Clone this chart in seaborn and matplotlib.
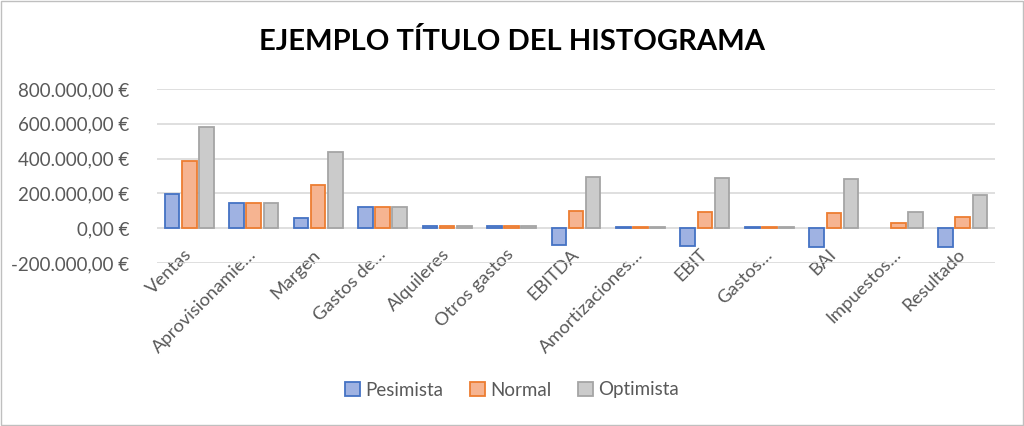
import matplotlib
matplotlib.use("Agg")
import matplotlib.pyplot as plt
import seaborn as sns
import pandas as pd
from matplotlib.patches import Patch, Rectangle
from matplotlib.ticker import FuncFormatter

categories = ["Ventas", "Aprovisionamie…", "Margen", "Gastos de…", "Alquileres",
              "Otros gastos", "EBITDA", "Amortizaciones…", "EBIT", "Gastos…",
              "BAI", "Impuestos…", "Resultado"]
pesimista = [194000, 143000, 57000, 122000, 15000, 15000, -95000, 8000, -101000, 5000, -107000, 0, -107000]
normal = [389000, 143000, 247000, 122000, 15000, 15000, 101000, 8000, 95000, 5000, 90000, 32000, 65000]
optimista = [579000, 143000, 440000, 122000, 15000, 15000, 293000, 8000, 287000, 5000, 282000, 95000, 192000]
series = ["Pesimista", "Normal", "Optimista"]
yticks = [-200000, 0, 200000, 400000, 600000, 800000]

rows = []
for name, vals in zip(series, [pesimista, normal, optimista]):
    for c, v in zip(categories, vals):
        rows.append({"cat": c, "serie": name, "valor": v})
df = pd.DataFrame(rows)

sns.set_theme(style="white")
plt.rcParams['font.family'] = ['Lato', 'DejaVu Sans']

fills = {"Pesimista": "#9FB2E2", "Normal": "#F6B491", "Optimista": "#CBCBCB"}
edges = {"Pesimista": "#4472C4", "Normal": "#ED7D31", "Optimista": "#A5A5A5"}

fig = plt.figure(figsize=(10.24, 4.26), dpi=100)
ax = fig.add_axes([157/1024, 1-263/426, (995-157)/1024, (263-89)/426])
sns.barplot(data=df, x="cat", y="valor", hue="serie", order=categories,
            hue_order=series, palette=fills, width=0.8, gap=0.15, ax=ax,
            legend=False, saturation=1)
for cont, s in zip(ax.containers, series):
    for p in cont.patches:
        p.set_edgecolor(edges[s])
        p.set_linewidth(1.3 if p.get_height() != 0 else 0)

ax.set_ylim(-200000, 800000)
ax.set_xlim(-0.5, len(categories)-0.5)
ax.set_yticks(yticks)
def fmt(v, pos):
    s = f"{abs(int(v)):,}".replace(",", ".")
    return ("-" if v < 0 else "") + s + ",00 €"
ax.yaxis.set_major_formatter(FuncFormatter(fmt))
ax.grid(axis="y", color="#D9D9D9", linewidth=1.2)
ax.set_axisbelow(True)
for sp in ax.spines.values():
    sp.set_visible(False)
ax.set_xlabel("")
ax.set_ylabel("")
ax.tick_params(axis="y", labelsize=13.5, colors="#595959", length=0, pad=20)
ax.tick_params(axis="x", labelsize=13.2, colors="#595959", length=0, pad=-8)
for lab in ax.get_xticklabels():
    lab.set_rotation(45)
    lab.set_ha("right")
    lab.set_va("center")
    lab.set_rotation_mode("anchor")

fig.text(0.5, 1-42/426, "EJEMPLO TÍTULO DEL HISTOGRAMA", ha="center", va="center",
         fontsize=21, fontweight="bold", color="#000000")

handles = [Patch(facecolor=fills[s], edgecolor=edges[s], linewidth=1.3, label=s) for s in series]
fig.legend(handles=handles, loc="center", bbox_to_anchor=(0.5, 1-390/426), ncol=3,
           frameon=False, fontsize=13.5, labelcolor="#595959", handlelength=0.8,
           handleheight=0.8, handletextpad=0.3, columnspacing=1.4)

fig.patches.append(Rectangle((0.001, 0.002), 0.998, 0.996, transform=fig.transFigure,
                             fill=False, edgecolor="#BFBFBF", linewidth=1))
fig.savefig("out.png", dpi=100)
